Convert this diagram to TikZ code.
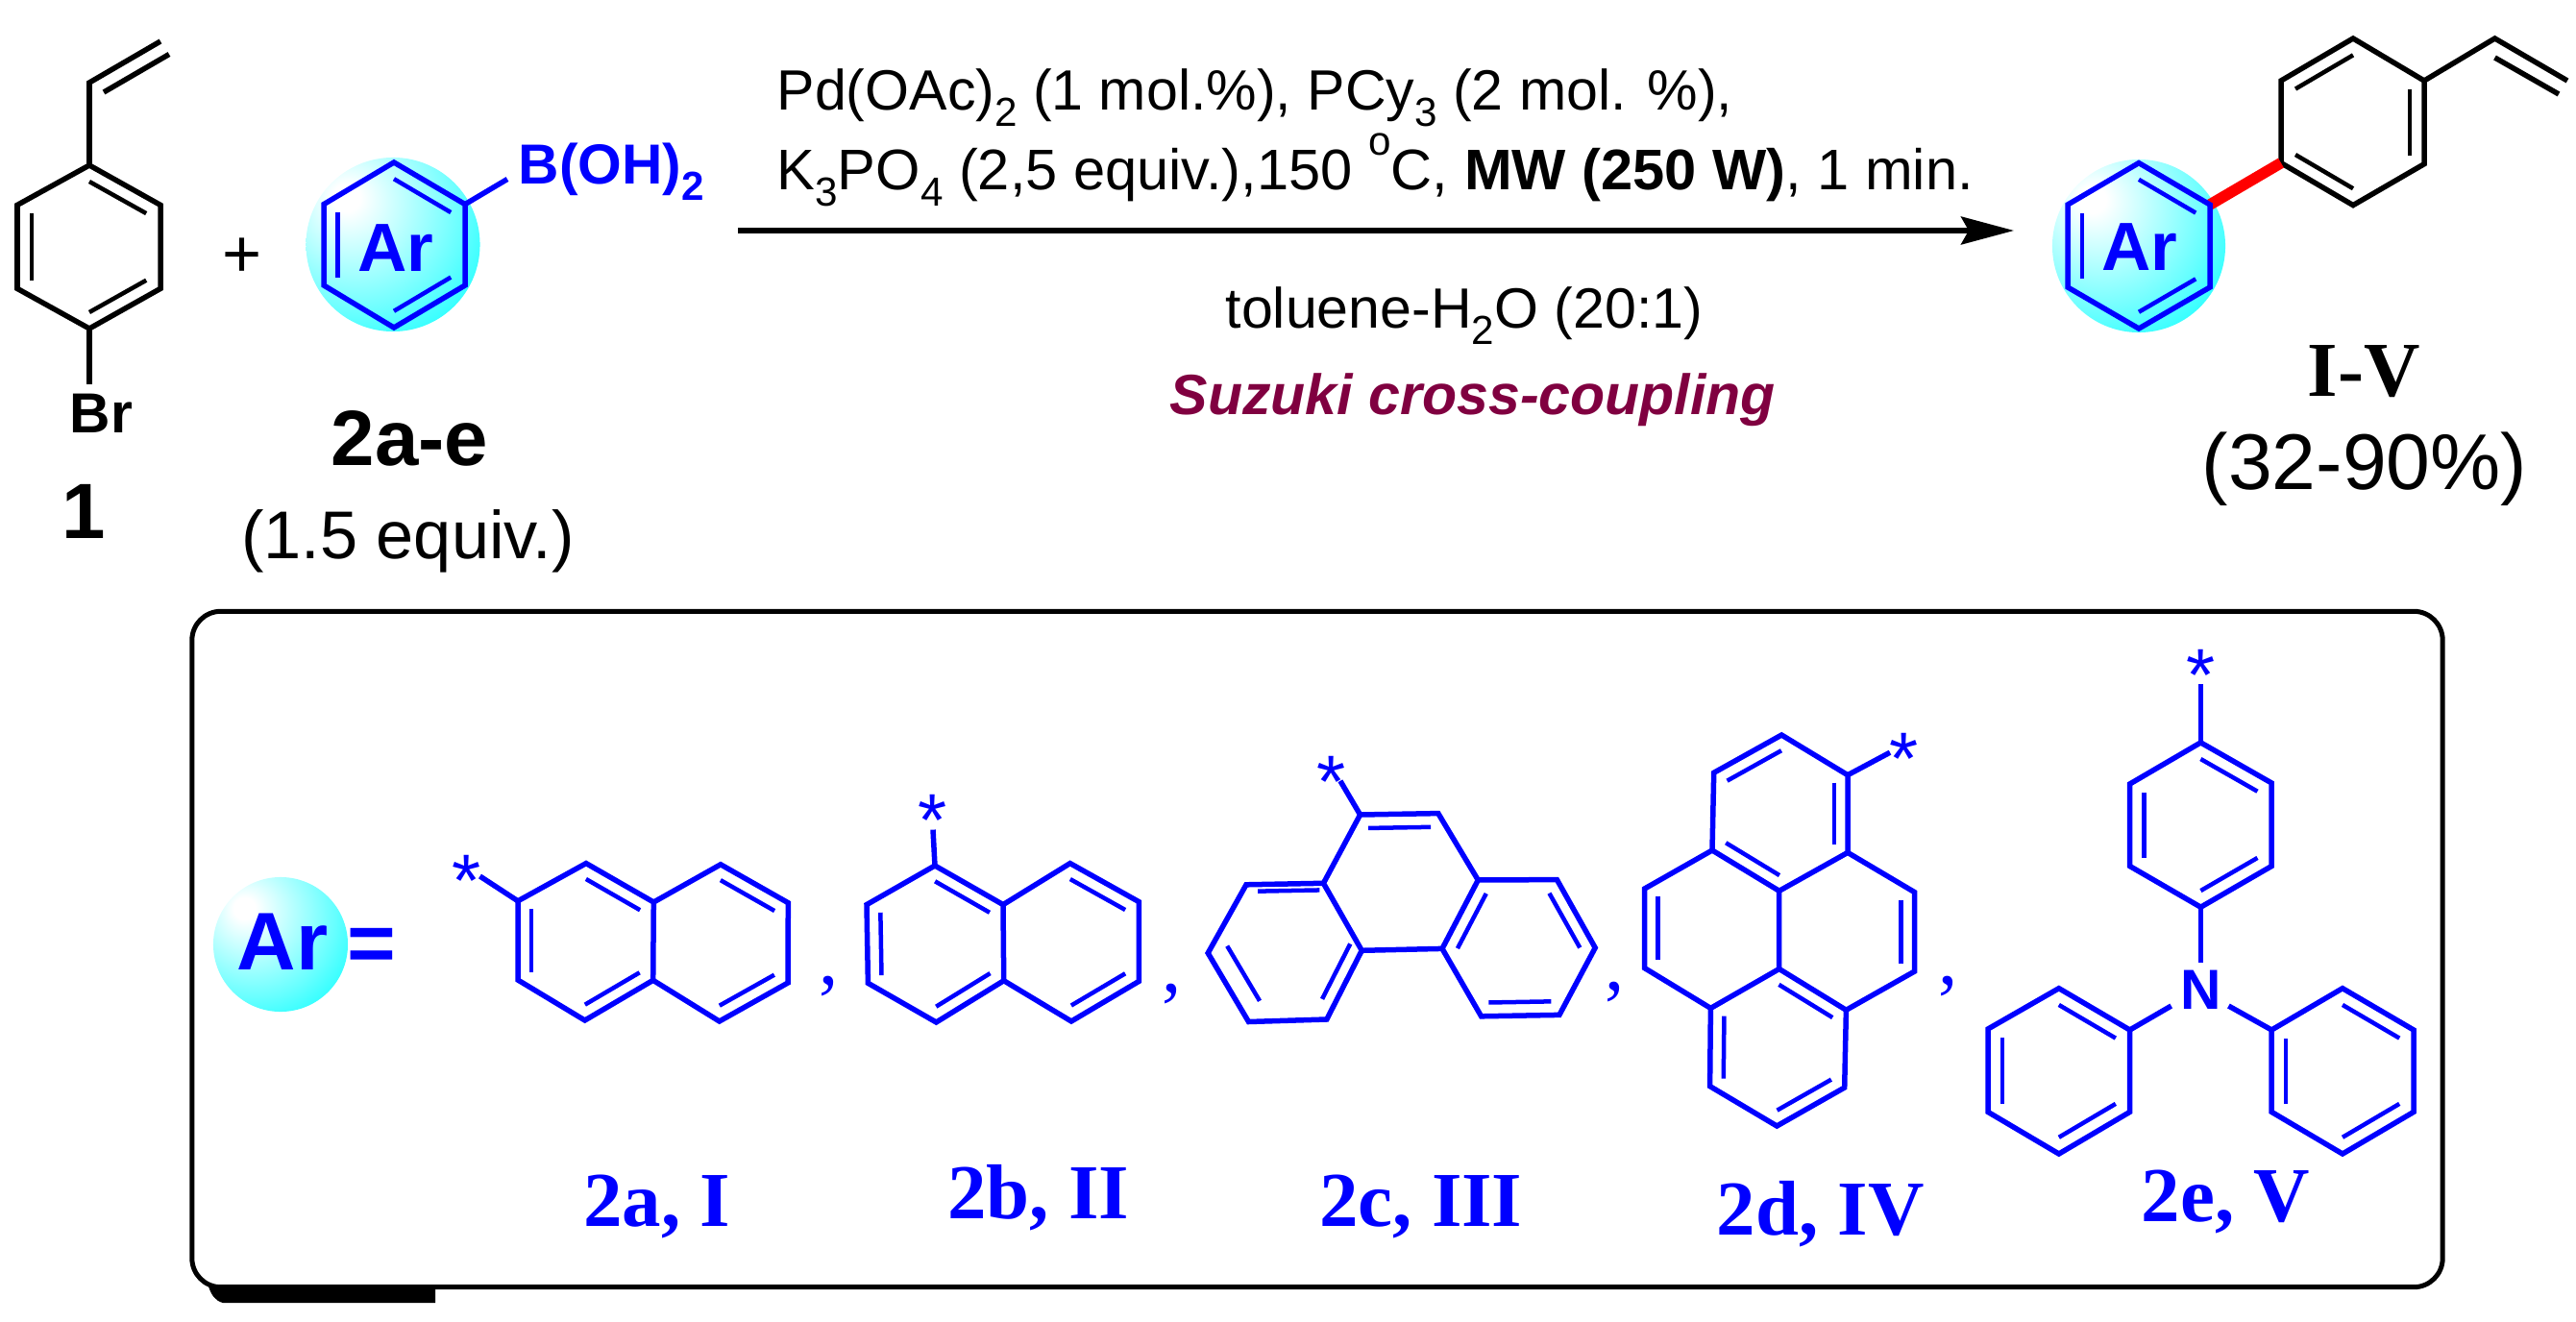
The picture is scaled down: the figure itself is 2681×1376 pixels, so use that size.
\documentclass[tikz,border=0pt]{standalone}
\usepackage{fontspec}
\setmainfont{Liberation Sans}
\newfontfamily\serifbd{Liberation Serif}[BoldFont={Liberation Serif Bold}]
\usetikzlibrary{arrows.meta,calc}
\definecolor{arblue}{RGB}{0,0,255}
\definecolor{wine}{RGB}{128,0,64}
\pgfdeclareradialshading{arglow}{\pgfpoint{-14bp}{14bp}}{color(0bp)=(white);color(4bp)=(white);color(30bp)=(cyan!60);color(46bp)=(cyan);color(100bp)=(cyan)}
\newcommand{\innerbond}[3]{\draw[inner] ($(#1)!0.2!(#3)$) -- ($(#2)!0.2!(#3)$);}
\newcommand{\subno}[1]{\raisebox{-0.28em}{\fontsize{12}{12}\selectfont #1}}
\newcommand{\supno}[1]{\raisebox{0.62em}{\fontsize{12}{12}\selectfont #1}}
\begin{document}
\begin{tikzpicture}[x=0.01cm,y=-0.01cm]
	\useasboundingbox (0,0) rectangle (2681,1376);
	\tikzstyle{bond}=[line width=0.055cm, line join=miter]
	\tikzstyle{inner}=[line width=0.045cm]
	\tikzstyle{reagent}=[inner sep=0pt, anchor=base west, font=\fontsize{16.95}{20}\selectfont]
	\tikzstyle{blob}=[circle, inner sep=0pt, shading=arglow]
	\tikzstyle{arlbl}=[inner sep=0pt, text=arblue, font=\bfseries\fontsize{20.2}{24}\selectfont]
	\tikzstyle{atomlbl}=[inner sep=0pt, anchor=base west, font=\bfseries\fontsize{16.7}{20}\selectfont]
	\tikzstyle{comp}=[inner sep=0pt, anchor=base, font=\bfseries\fontsize{23.2}{28}\selectfont]
	\tikzstyle{yield}=[inner sep=0pt, anchor=base, font=\fontsize{20}{24}\selectfont]
	\tikzstyle{panellbl}=[inner sep=0pt, anchor=base west, text=arblue, font=\serifbd\bfseries\fontsize{23}{28}\selectfont]
	\tikzstyle{star}=[inner sep=0pt, anchor=base, text=arblue, font=\fontsize{22}{24}\selectfont]
	\tikzstyle{sep}=[inner sep=0pt, anchor=base, text=arblue, font=\serifbd\fontsize{23}{28}\selectfont]

	\coordinate (s1) at (93,172); \coordinate (s2) at (167,213.4); \coordinate (s3) at (167,300.4);
	\coordinate (s4) at (93,342); \coordinate (s5) at (18,300.4); \coordinate (s6) at (18,213.4);
	\coordinate (s0) at ($(s1)!0.5!(s4)$);
	\coordinate (sv1) at (93,86); \coordinate (sv2) at (167,43);
	\coordinate (sv3) at (108,96); \coordinate (sv4) at (176,56.5);
	\coordinate (sbr) at (93,400);
	\node[atomlbl] (Br) at (72,450) {Br};
	\node[comp] (one) at (87,560) {1};
	\node[inner sep=0pt, font=\fontsize{20}{24}\selectfont] (plus) at (252,268) {+};

	\node[blob, minimum size=1.81cm] (arL) at (409,254.5) {};
	\node[arlbl] (arLt) at (412,258) {Ar};
	\coordinate (l1) at (410,169); \coordinate (l2) at (484,212.6); \coordinate (l3) at (484,297);
	\coordinate (l4) at (410,341); \coordinate (l5) at (337,297); \coordinate (l6) at (337,212.6);
	\coordinate (l0) at ($(l1)!0.5!(l4)$);
	\coordinate (lb) at (528,186.5);
	\node[atomlbl, text=arblue] (boron) at (539,192) {B(OH)\subno{2}};
	\node[comp] (reag) at (426.5,484) {2a-e};
	\node[yield] (equiv) at (424.5,581) {(1.5 equiv.)};

	\coordinate (arrS) at (768,240);
	\coordinate (arrE) at (2096,240);
	\node[reagent, font=\fontsize{16.8}{20}\selectfont] (cond1) at (808,115) {Pd(OAc)\subno{2} (1 mol.\%), PCy\subno{3} (2 mol. \%),};
	\node[reagent] (cond2) at (808,198) {K\subno{3}PO\subno{4} (2,5 equiv.),150 \supno{o}C, \textbf{MW (250 W)}, 1 min.};
	\node[reagent, font=\fontsize{16.8}{20}\selectfont] (solv) at (1275,341.6) {toluene-H\subno{2}O (20:1)};
	\node[reagent, text=wine, font=\bfseries\itshape\fontsize{16.8}{20}\selectfont] (suz) at (1217,431.7) {Suzuki cross-coupling};

	\node[blob, minimum size=1.8cm] (arR) at (2226,256) {};
	\node[arlbl] (arRt) at (2227,257.5) {Ar};
	\coordinate (r1) at (2226,169.6); \coordinate (r2) at (2300,213); \coordinate (r3) at (2300,299);
	\coordinate (r4) at (2226,342); \coordinate (r5) at (2152,299); \coordinate (r6) at (2152,213);
	\coordinate (r0) at ($(r1)!0.5!(r4)$);
	\coordinate (t1) at (2374,169.6); \coordinate (t2) at (2374,84); \coordinate (t3) at (2449,40);
	\coordinate (t4) at (2523,84); \coordinate (t5) at (2523,170.7); \coordinate (t6) at (2449,213.6);
	\coordinate (t0) at ($(t3)!0.5!(t6)$);
	\coordinate (tv1) at (2596.5,40); \coordinate (tv2) at (2672,84);
	\coordinate (tv3) at (2596.5,60); \coordinate (tv4) at (2663,98);
	\node[inner sep=0pt, anchor=base, font=\serifbd\bfseries\fontsize{23}{28}\selectfont] (prod) at (2460,412.5) {I-V};
	\node[yield, font=\fontsize{23.4}{28}\selectfont] (yld) at (2461,509) {(32-90\%)};

	\node[draw, line width=0.05cm, rounded corners=0.3cm, inner sep=0pt, minimum width=23.41cm, minimum height=7.03cm] (panel) at (1371,988) {};
	\fill (217,1339) -- (453,1339) -- (453,1356) -- (232,1356) .. controls (224,1354) and (220,1348) .. (217,1339) -- cycle;

	\node[blob, minimum size=1.4cm] (arP) at (292,983) {};
	\node[arlbl, font=\bfseries\fontsize{24.2}{28}\selectfont] (arPt) at (294,980) {Ar};
	\node[inner sep=0pt, anchor=base, text=arblue, font=\bfseries\fontsize{24.7}{28}\selectfont] (eq) at (387,1011) {=};

	\begin{scope}[bond]
		\draw (s1) -- (s2) -- (s3) -- (s4) -- (s5) -- (s6) -- cycle;
		\draw (s1) -- (sv1) -- (sv2);
		\draw (sv3) -- (sv4);
		\draw (s4) -- (sbr);
		\draw (t1) -- (t2) -- (t3) -- (t4) -- (t5) -- (t6) -- cycle;
		\draw (t4) -- (tv1) -- (tv2);
		\draw (tv3) -- (tv4);
		\draw[red, line width=0.115cm] (r2) -- (t1);
		\draw[-{Stealth[length=0.55cm,width=0.29cm,inset=0.08cm]}, line width=0.05cm] (arrS) -- (arrE);
	\end{scope}
	\innerbond{s1}{s2}{s0}
	\innerbond{s3}{s4}{s0}
	\innerbond{s5}{s6}{s0}
	\innerbond{t2}{t3}{t0}
	\innerbond{t4}{t5}{t0}
	\innerbond{t6}{t1}{t0}

	\begin{scope}[color=arblue]
		\draw[bond] (l1) -- (l2) -- (l3) -- (l4) -- (l5) -- (l6) -- cycle;
		\draw[bond] (l2) -- (lb);
		\innerbond{l1}{l2}{l0}
		\innerbond{l3}{l4}{l0}
		\innerbond{l5}{l6}{l0}
		\draw[bond] (r1) -- (r2) -- (r3) -- (r4) -- (r5) -- (r6) -- cycle;
		\innerbond{r1}{r2}{r0}
		\innerbond{r3}{r4}{r0}
		\innerbond{r5}{r6}{r0}

		% 2a
		\coordinate (a1) at (610,898.6); \coordinate (a2) at (680.3,939); \coordinate (a3) at (679.7,1020.3);
		\coordinate (a4) at (608.7,1062); \coordinate (a5) at (539,1020); \coordinate (a6) at (539,937.8);
		\coordinate (a7) at (750,899.8); \coordinate (a8) at (820.3,939.7); \coordinate (a9) at (820,1023);
		\coordinate (a10) at (748.7,1063); \coordinate (ax) at (499.5,912);
		\coordinate (ac1) at ($(a1)!0.5!(a4)$); \coordinate (ac2) at ($(a7)!0.5!(a10)$);
		\draw[bond] (a1) -- (a2) -- (a3) -- (a4) -- (a5) -- (a6) -- cycle;
		\draw[bond] (a2) -- (a7) -- (a8) -- (a9) -- (a10) -- (a3);
		\draw[bond] (a6) -- (ax);
		\innerbond{a1}{a2}{ac1}
		\innerbond{a3}{a4}{ac1}
		\innerbond{a5}{a6}{ac1}
		\innerbond{a7}{a8}{ac2}
		\innerbond{a9}{a10}{ac2}
		\node[star] (as) at (485.4,943) {*};
		\node[sep] (cm1) at (863,1024) {,};
		\node[panellbl] (la) at (606.7,1276) {2a, I};

		% 2b
		\coordinate (b1) at (973,901); \coordinate (b2) at (1044,941.6); \coordinate (b3) at (1044.7,1020.7);
		\coordinate (b4) at (974.4,1064); \coordinate (b5) at (903.4,1023.3); \coordinate (b6) at (902,941.6);
		\coordinate (b7) at (1113.7,898.6); \coordinate (b8) at (1185.3,938.6); \coordinate (b9) at (1185.3,1021.4);
		\coordinate (b10) at (1115,1063); \coordinate (bx) at (971,863.6);
		\coordinate (bc1) at ($(b1)!0.5!(b4)$); \coordinate (bc2) at ($(b7)!0.5!(b10)$);
		\draw[bond] (b1) -- (b2) -- (b3) -- (b4) -- (b5) -- (b6) -- cycle;
		\draw[bond] (b2) -- (b7) -- (b8) -- (b9) -- (b10) -- (b3);
		\draw[bond] (b1) -- (bx);
		\innerbond{b1}{b2}{bc1}
		\innerbond{b3}{b4}{bc1}
		\innerbond{b5}{b6}{bc1}
		\innerbond{b7}{b8}{bc2}
		\innerbond{b9}{b10}{bc2}
		\node[star] (bs) at (971,880) {*};
		\node[sep] (cm2) at (1219.5,1032) {,};
		\node[panellbl] (lb2) at (985.7,1268) {2b, II};

		% 2c
		\coordinate (c1) at (1415.6,848); \coordinate (c2) at (1496.8,846.6); \coordinate (c3) at (1538.3,916);
		\coordinate (c4) at (1501,987.4); \coordinate (c5) at (1417.3,989.3); \coordinate (c6) at (1377.4,919.3);
		\coordinate (c7) at (1297,920.8); \coordinate (c8) at (1257.2,992); \coordinate (c9) at (1299.5,1063.5);
		\coordinate (c10) at (1380.8,1061); \coordinate (c11) at (1620.4,915.6); \coordinate (c12) at (1660.2,986.5);
		\coordinate (c13) at (1622.9,1056.4); \coordinate (c14) at (1541.6,1057.8); \coordinate (cx) at (1394.9,812.8);
		\coordinate (cc0) at ($(c1)!0.5!(c4)$); \coordinate (cc1) at ($(c7)!0.5!(c5)$); \coordinate (cc2) at ($(c3)!0.5!(c13)$);
		\draw[bond] (c1) -- (c2) -- (c3) -- (c4) -- (c5) -- (c6) -- cycle;
		\draw[bond] (c6) -- (c7) -- (c8) -- (c9) -- (c10) -- (c5);
		\draw[bond] (c3) -- (c11) -- (c12) -- (c13) -- (c14) -- (c4);
		\draw[bond] (c1) -- (cx);
		\innerbond{c1}{c2}{cc0}
		\innerbond{c6}{c7}{cc1}
		\innerbond{c8}{c9}{cc1}
		\innerbond{c10}{c5}{cc1}
		\innerbond{c3}{c4}{cc2}
		\innerbond{c11}{c12}{cc2}
		\innerbond{c13}{c14}{cc2}
		\node[star] (cs) at (1385.7,840) {*};
		\node[sep] (cm3) at (1681,1030) {,};
		\node[panellbl] (lc) at (1372.5,1276) {2c, III};

		% 2d
		\coordinate (d1) at (1854.2,765); \coordinate (d2) at (1923,806.7); \coordinate (d3) at (1923,887.4);
		\coordinate (d4) at (1851.7,927.3); \coordinate (d5) at (1782,885); \coordinate (d6) at (1783.7,804.3);
		\coordinate (d7) at (1711.6,925); \coordinate (d8) at (1711.6,1007.6); \coordinate (d9) at (1780.4,1049.4);
		\coordinate (d10) at (1851.7,1008.5); \coordinate (d11) at (1992.7,928.7); \coordinate (d12) at (1992.7,1011);
		\coordinate (d13) at (1921.4,1051.3); \coordinate (d14) at (1779.6,1130.6); \coordinate (d15) at (1849.3,1172);
		\coordinate (d16) at (1919.7,1132); \coordinate (dx) at (1967,783.2);
		\coordinate (dc1) at ($(d1)!0.5!(d4)$); \coordinate (dc2) at ($(d7)!0.5!(d10)$);
		\coordinate (dc3) at ($(d4)!0.5!(d12)$); \coordinate (dc4) at ($(d10)!0.5!(d15)$);
		\draw[bond] (d1) -- (d2) -- (d3) -- (d4) -- (d5) -- (d6) -- cycle;
		\draw[bond] (d5) -- (d7) -- (d8) -- (d9) -- (d10) -- (d4);
		\draw[bond] (d3) -- (d11) -- (d12) -- (d13) -- (d10);
		\draw[bond] (d9) -- (d14) -- (d15) -- (d16) -- (d13);
		\draw[bond] (d2) -- (dx);
		\innerbond{d6}{d1}{dc1}
		\innerbond{d2}{d3}{dc1}
		\innerbond{d4}{d5}{dc1}
		\innerbond{d7}{d8}{dc2}
		\innerbond{d11}{d12}{dc3}
		\innerbond{d10}{d13}{dc4}
		\innerbond{d9}{d14}{dc4}
		\innerbond{d15}{d16}{dc4}
		\node[star] (ds) at (1982,816) {*};
		\node[sep] (cm4) at (2027.5,1024) {,};
		\node[panellbl] (ld) at (1786,1285.5) {2d, IV};

		% 2e
		\coordinate (e1) at (2290.4,772.9); \coordinate (e2) at (2364.2,815); \coordinate (e3) at (2364.2,901.5);
		\coordinate (e4) at (2290.4,944.2); \coordinate (e5) at (2216.6,901.5); \coordinate (e6) at (2216.6,816);
		\coordinate (ex) at (2290.4,711.8); \coordinate (en) at (2290.4,1001.5);
		\coordinate (f1) at (2142.8,1028.7); \coordinate (f2) at (2216.6,1072); \coordinate (f3) at (2216.6,1157.4);
		\coordinate (f4) at (2142.8,1201); \coordinate (f5) at (2069,1157.4); \coordinate (f6) at (2069,1071);
		\coordinate (fn) at (2259.7,1047);
		\coordinate (g1) at (2438,1028.7); \coordinate (g2) at (2512,1072); \coordinate (g3) at (2512,1157.4);
		\coordinate (g4) at (2438,1201); \coordinate (g5) at (2364.2,1157.4); \coordinate (g6) at (2364.2,1072);
		\coordinate (gn) at (2319.4,1047);
		\coordinate (ec) at ($(e1)!0.5!(e4)$); \coordinate (fc) at ($(f1)!0.5!(f4)$); \coordinate (gc) at ($(g1)!0.5!(g4)$);
		\draw[bond] (e1) -- (e2) -- (e3) -- (e4) -- (e5) -- (e6) -- cycle;
		\draw[bond] (f1) -- (f2) -- (f3) -- (f4) -- (f5) -- (f6) -- cycle;
		\draw[bond] (g1) -- (g2) -- (g3) -- (g4) -- (g5) -- (g6) -- cycle;
		\draw[bond] (e1) -- (ex);
		\draw[bond] (e4) -- (en);
		\draw[bond] (f2) -- (fn);
		\draw[bond] (g6) -- (gn);
		\innerbond{e1}{e2}{ec}
		\innerbond{e3}{e4}{ec}
		\innerbond{e5}{e6}{ec}
		\innerbond{f1}{f2}{fc}
		\innerbond{f3}{f4}{fc}
		\innerbond{f5}{f6}{fc}
		\innerbond{g1}{g2}{gc}
		\innerbond{g3}{g4}{gc}
		\innerbond{g5}{g6}{gc}
		\node[star] (es) at (2291,729) {*};
		\node[atomlbl, anchor=base] (nitro) at (2290.4,1050.8) {N};
		\node[panellbl] (le) at (2228,1271.5) {2e, V};
	\end{scope}
\end{tikzpicture}
\end{document}
